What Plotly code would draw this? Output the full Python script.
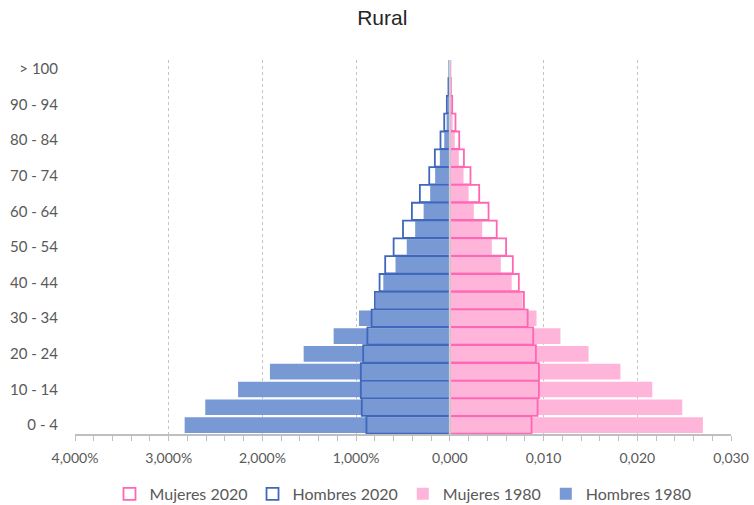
import plotly.graph_objects as go

ages = ["0 - 4", "5 - 9", "10 - 14", "15 - 19", "20 - 24", "25 - 29", "30 - 34",
        "35 - 39", "40 - 44", "45 - 49", "50 - 54", "55 - 59", "60 - 64", "65 - 69",
        "70 - 74", "75 - 79", "80 - 84", "85 - 89", "90 - 94", "95 - 99", "> 100"]

hombres_1980 = [0.0283, 0.0261, 0.0226, 0.0192, 0.0156, 0.0124, 0.0097, 0.0079,
                0.0071, 0.0058, 0.0046, 0.0037, 0.0028, 0.0021, 0.00157, 0.00107,
                0.0006, 0.00035, 0.00015, 0.00005, 0.00002]
hombres_2020 = [0.0089, 0.0094, 0.0095, 0.0095, 0.00925, 0.0088, 0.00835, 0.0080,
                0.0075, 0.0069, 0.0060, 0.0050, 0.00405, 0.0032, 0.0022, 0.0016,
                0.0010, 0.0006, 0.00032, 0.00015, 0.00005]
mujeres_1980 = [0.0270, 0.0248, 0.0216, 0.0182, 0.0148, 0.0118, 0.00925, 0.00776,
                0.0066, 0.00544, 0.00448, 0.00345, 0.00256, 0.0020, 0.00146, 0.00096,
                0.00053, 0.0003, 0.00015, 0.00005, 0.00002]
mujeres_2020 = [0.00872, 0.00936, 0.0095, 0.0095, 0.00918, 0.00889, 0.0083, 0.0079,
                0.00736, 0.00672, 0.0060, 0.0050, 0.00413, 0.00313, 0.0022, 0.0015,
                0.0010, 0.0006, 0.00025, 0.0001, 0.00005]

x_tickvals = [-0.04, -0.03, -0.02, -0.01, 0.0, 0.01, 0.02, 0.03]
x_ticktext = ["4,000%", "3,000%", "2,000%", "1,000%", "0,000", "0,010", "0,020", "0,030"]
y_ticks = ages[::2]

BLUE_FILL = "#7899D4"
BLUE_LINE = "#3F68BD"
PINK_FILL = "#FFB5DA"
PINK_LINE = "#FF66B3"

fig = go.Figure()
fig.add_trace(go.Bar(y=ages, x=[-v for v in hombres_1980], orientation="h",
                     name="Hombres 1980", marker=dict(color=BLUE_FILL, line=dict(width=0)),
                     width=0.88, legendrank=4))
fig.add_trace(go.Bar(y=ages, x=mujeres_1980, orientation="h",
                     name="Mujeres 1980", marker=dict(color=PINK_FILL, line=dict(width=0)),
                     width=0.88, legendrank=3))
fig.add_trace(go.Bar(y=ages, x=[-v for v in hombres_2020], orientation="h",
                     name="Hombres 2020",
                     marker=dict(color="rgba(255,255,255,0)", line=dict(color=BLUE_LINE, width=1.8)),
                     width=0.97, legendrank=2))
fig.add_trace(go.Bar(y=ages, x=mujeres_2020, orientation="h",
                     name="Mujeres 2020",
                     marker=dict(color="rgba(255,255,255,0)", line=dict(color=PINK_LINE, width=1.8)),
                     width=0.97, legendrank=1))

# zero axis line drawn above the bars, as in the original
fig.add_shape(type="line", xref="x", yref="paper", x0=0, x1=0, y0=0, y1=1,
              line=dict(color="#D0D0D0", width=2), layer="above")

fig.update_layout(
    width=754, height=505,
    barmode="overlay",
    paper_bgcolor="white", plot_bgcolor="white",
    margin=dict(l=75, r=23, t=60, b=71, autoexpand=False),
    title=dict(text="Rural", x=0.507, xanchor="center", y=0.966, yanchor="middle",
               font=dict(family="Liberation Sans, Arial", size=21, color="#262626")),
    font=dict(family="Lato, Open Sans, sans-serif", size=14, color="#595959"),
    legend=dict(orientation="h", x=0.5, xanchor="center",
                yref="container", y=0.022, yanchor="middle",
                font=dict(size=16, color="#595959"), traceorder="normal",
                itemwidth=30),
    showlegend=True,
)
fig.update_xaxes(
    range=[-0.04, 0.03], tickvals=x_tickvals, ticktext=x_ticktext, automargin=False,
    showgrid=True, gridcolor="#C4C4C4", griddash="dot", gridwidth=1,
    zeroline=False,
    showline=True, linecolor="#BFBFBF", linewidth=1.5,
    ticks="outside", ticklen=5, tickcolor="#BFBFBF",
    minor=dict(dtick=0.002, ticks="outside", ticklen=5, tickcolor="#BFBFBF", showgrid=False),
    tickfont=dict(size=14, color="#595959"), ticklabelstandoff=5,
)
fig.update_yaxes(
    categoryorder="array", categoryarray=ages, automargin=False,
    tickvals=y_ticks, ticktext=y_ticks, ticks="", showline=False, showgrid=False,
    tickfont=dict(size=15, color="#595959"), ticklabelstandoff=16,
)

fig.write_html("out.html", config={"displayModeBar": False},
               post_script="document.body.style.margin='0';")
